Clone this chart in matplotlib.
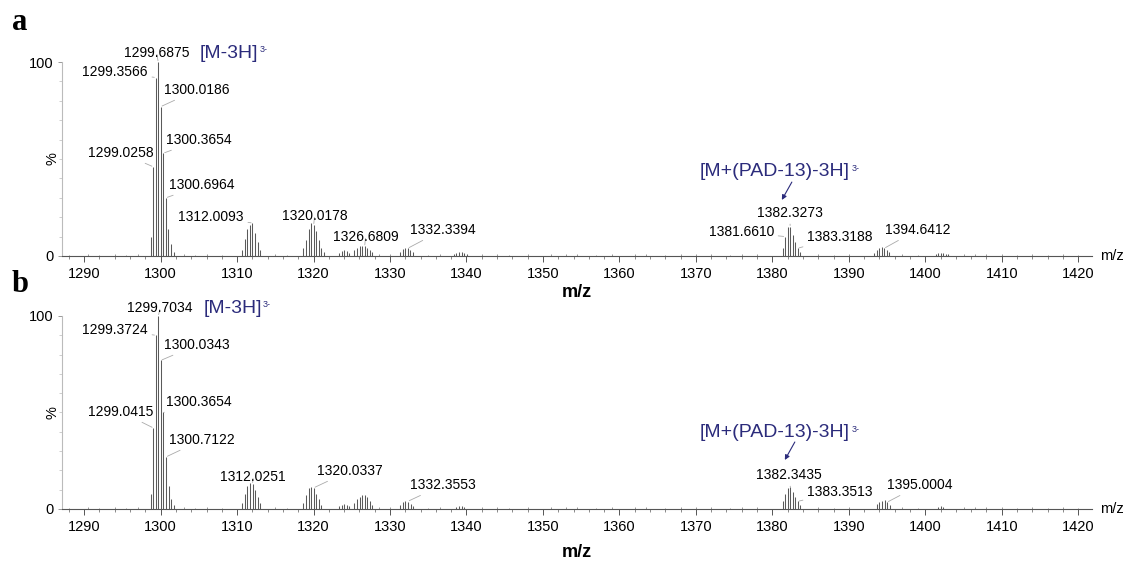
import matplotlib
matplotlib.use("Agg")
import matplotlib.pyplot as plt
from matplotlib.ticker import MultipleLocator, FixedLocator
from matplotlib.transforms import blended_transform_factory

plt.rcParams['font.family'] = ['Liberation Sans', 'DejaVu Sans']

# ---------------- data: panel a ----------------
a_mz = [1298.69, 1299.0258, 1299.3566, 1299.6875, 1300.0186, 1300.3654, 1300.6964, 1301.03, 1301.36, 1301.70,
        1310.67, 1311.01, 1311.34, 1311.68, 1312.0093, 1312.34, 1312.68, 1313.01,
        1318.68, 1319.01, 1319.35, 1319.68, 1320.0178, 1320.35, 1320.68, 1321.02, 1321.35,
        1323.35, 1323.68, 1324.02, 1324.35, 1324.68,
        1325.35, 1325.68, 1326.01, 1326.35, 1326.6809, 1327.01, 1327.35, 1327.68,
        1331.34, 1331.67, 1332.00, 1332.3394, 1332.67, 1333.00,
        1338.35, 1338.68, 1339.02, 1339.35, 1339.68, 1340.02,
        1381.33, 1381.6610, 1382.00, 1382.3273, 1382.66, 1382.99, 1383.3188, 1383.66,
        1393.30, 1393.64, 1393.97, 1394.31, 1394.6412, 1394.97, 1395.31,
        1401.35, 1401.68, 1402.02, 1402.35, 1402.68, 1403.02]
a_int = [10, 46, 92, 100, 77, 53, 30, 14, 6, 2,
         3, 9, 14, 16, 17, 12, 7, 3,
         4, 8, 14, 17, 16, 13, 8, 4, 2,
         1.5, 2.5, 3, 2.5, 1.5,
         3, 4, 5, 5, 5, 4, 3, 2,
         2, 3.5, 4, 4, 3, 2,
         1, 1.5, 2, 2, 1.5, 1,
         4, 10, 15, 15, 11, 7, 4, 2,
         1.5, 3, 4, 4.5, 4, 3, 2,
         1, 1.5, 1.5, 1.5, 1, 1]

# ---------------- data: panel b ----------------
b_mz = [1298.71, 1299.0415, 1299.3724, 1299.7034, 1300.0343, 1300.3654, 1300.7122, 1301.04, 1301.37, 1301.70,
        1310.68, 1311.02, 1311.35, 1311.69, 1312.0251, 1312.36, 1312.69, 1313.02,
        1318.68, 1319.02, 1319.36, 1319.69, 1320.0337, 1320.37, 1320.70, 1321.03,
        1323.35, 1323.68, 1324.02, 1324.35, 1324.68,
        1325.35, 1325.68, 1326.02, 1326.35, 1326.69, 1327.02, 1327.36, 1327.69,
        1331.36, 1331.69, 1332.02, 1332.3553, 1332.69, 1333.02,
        1338.68, 1339.02, 1339.35, 1339.68,
        1381.34, 1381.68, 1382.01, 1382.3435, 1382.68, 1383.01, 1383.3513, 1383.68,
        1393.66, 1394.00, 1394.33, 1394.67, 1395.0004, 1395.33,
        1401.68, 1402.02, 1402.35]
b_int = [8, 42, 90, 100, 77, 50, 27, 12, 5, 2,
         3, 8, 12, 13.5, 13, 10, 6, 3,
         3, 7, 11, 11.5, 11, 8, 5, 2,
         1.5, 2, 2.5, 2, 1.5,
         3, 5, 6, 7, 7.5, 6, 4, 2,
         2, 3.5, 4, 3.5, 2.5, 1.5,
         1, 1.5, 1.5, 1,
         4, 8, 11, 11.5, 9, 6, 4, 2,
         2.5, 3.5, 4, 4.5, 3.5, 2,
         1, 1.5, 1]

# low-level baseline signal (read approximately)
base_mz = [1288, 1290.5, 1292, 1294, 1295.5, 1297, 1303, 1304.5, 1306, 1308, 1315, 1316.5, 1328.5, 1330,
           1335, 1336.5, 1342, 1344, 1345.5, 1348, 1351, 1353, 1354.5, 1357, 1359, 1362, 1363.5, 1366,
           1368, 1370, 1372, 1374.5, 1376, 1378, 1386, 1388, 1390, 1397, 1399, 1405, 1406.5, 1408,
           1410, 1412, 1414, 1416, 1418, 1420]
base_int = [0.6, 0.8, 0.5, 0.9, 0.6, 0.8, 1.0, 0.7, 0.9, 0.6, 0.8, 0.7, 0.9, 0.8,
            0.7, 0.9, 0.8, 1.0, 0.7, 0.8, 0.9, 1.1, 0.8, 0.7, 0.9, 0.8, 1.0, 0.7,
            1.0, 0.8, 0.9, 0.7, 0.8, 0.9, 0.8, 0.7, 0.9, 0.8, 0.7, 1.0, 0.8, 0.9,
            0.8, 0.7, 0.9, 0.6, 0.8, 0.7]

# labels: (text, peak m/z, peak intensity, text x, text y)
a_labels = [("1299.6875", 1299.6875, 100, 1299.48, 104.6),
            ("1299.3566", 1299.3566, 92, 1294.05, 94.8),
            ("1300.0186", 1300.0186, 77, 1304.77, 85.6),
            ("1300.3654", 1300.3654, 53, 1305.03, 59.8),
            ("1299.0258", 1299.0258, 46, 1294.84, 53.1),
            ("1300.6964", 1300.6964, 30, 1305.42, 36.6),
            ("1312.0093", 1312.0093, 17, 1306.60, 20.1),
            ("1320.0178", 1320.0178, 16, 1320.13, 20.6),
            ("1326.6809", 1326.6809, 5, 1326.80, 9.8),
            ("1332.3394", 1332.3394, 4, 1336.86, 13.4),
            ("1382.3273", 1382.3273, 15, 1382.29, 22.2),
            ("1381.6610", 1381.6610, 10, 1375.95, 12.4),
            ("1383.3188", 1383.3188, 4, 1388.82, 9.8),
            ("1394.6412", 1394.6412, 4, 1398.95, 13.4)]
b_labels = [("1299.7034", 1299.7034, 100, 1299.93, 104.1),
            ("1299.3724", 1299.3724, 90, 1294.05, 92.7),
            ("1300.0343", 1300.0343, 77, 1304.77, 85.0),
            ("1300.3654", 1300.3654, 50, 1305.03, 55.4),
            ("1299.0415", 1299.0415, 42, 1294.84, 50.3),
            ("1300.7122", 1300.7122, 27, 1305.42, 35.8),
            ("1312.0251", 1312.0251, 13, 1312.09, 16.6),
            ("1320.0337", 1320.0337, 11, 1324.71, 19.7),
            ("1332.3553", 1332.3553, 4, 1336.86, 12.4),
            ("1382.3435", 1382.3435, 11.5, 1382.22, 17.6),
            ("1383.3513", 1383.3513, 4, 1388.82, 8.8),
            ("1395.0004", 1395.0004, 3.5, 1399.28, 12.4)]

ion_label = "[M-3H]"
pad_label = "[M+(PAD-13)-3H]"
charge_label = "3-"
NAVY = '#2b2b7b'

fig = plt.figure(figsize=(11.31, 5.61), dpi=100)
ax_a = fig.add_axes([0.0548, 0.5437, 0.9107, 0.4011])
ax_b = fig.add_axes([0.0548, 0.0927, 0.9107, 0.3785])


def navy_label(ax, x, y, text):
    t = ax.text(x, y, text, color=NAVY, fontsize=14, ha='left', va='center')
    ax.annotate(charge_label, xy=(1, 1), xycoords=t, xytext=(1.0, -0.5),
                textcoords='offset points', ha='left', va='top',
                color=NAVY, fontsize=6.5)


def draw(ax, mz, inten, labels, ylim, ion_pos, pad_pos, pad_arrow, xlabelpad):
    ax.vlines(base_mz, 0, base_int, color='#888888', lw=0.6)
    ax.vlines(mz, 0, inten, color='#5a5a5a', lw=0.75)
    ax.set_xlim(1287.1, 1421.8)
    ax.set_ylim(*ylim)
    for s in ['top', 'right']:
        ax.spines[s].set_visible(False)
    ax.spines['left'].set_bounds(0, 100)
    ax.spines['left'].set_color('#bbbbbb')
    ax.spines['bottom'].set_color('#555555')
    ax.spines['bottom'].set_linewidth(0.8)
    ax.yaxis.set_major_locator(FixedLocator([0, 100]))
    ax.yaxis.set_minor_locator(FixedLocator([10, 20, 30, 40, 50, 60, 70, 80, 90]))
    ax.xaxis.set_major_locator(MultipleLocator(10))
    ax.xaxis.set_minor_locator(MultipleLocator(2))
    ax.tick_params(axis='x', which='major', length=4, width=0.7, color='#555555', pad=4, labelsize=10.5)
    ax.tick_params(axis='x', which='minor', length=2.5, width=0.6, color='#777777')
    ax.tick_params(axis='y', which='major', length=3, width=0.7, color='#999999', pad=3, labelsize=10.5)
    ax.tick_params(axis='y', which='minor', length=2, width=0.5, color='#bbbbbb')
    tr = blended_transform_factory(ax.transAxes, ax.transData)
    ax.text(-0.0095, 50, '%', transform=tr, rotation=90, ha='center', va='center',
            fontsize=10.5)
    ax.set_xlabel('m/z', fontsize=13, fontweight='bold', labelpad=xlabelpad)
    ax.annotate('m/z', xy=(1, 0), xycoords='axes fraction', xytext=(6, 0),
                textcoords='offset points', ha='left', va='center', fontsize=10.5)
    for text, px, py, tx, ty in labels:
        ax.annotate(text, xy=(px, py), xytext=(tx, ty), ha='center', va='center',
                    fontsize=10, annotation_clip=False,
                    arrowprops=dict(arrowstyle='-', color='#aaaaaa', lw=0.6,
                                    shrinkA=1, shrinkB=1))
    navy_label(ax, ion_pos[0], ion_pos[1], ion_label)
    navy_label(ax, pad_pos[0], pad_pos[1], pad_label)
    ax.annotate('', xy=pad_arrow[1], xytext=pad_arrow[0],
                arrowprops=dict(arrowstyle='-|>', color=NAVY, lw=0.8,
                                mutation_scale=7, shrinkA=0, shrinkB=0))


draw(ax_a, a_mz, a_int, a_labels, (0, 116), (1305.16, 104.6), (1370.52, 43.3),
     ((1382.55, 38.1), (1381.24, 28.9)), 2)
draw(ax_b, b_mz, b_int, b_labels, (0, 110), (1305.56, 104.1), (1370.52, 39.4),
     ((1382.94, 34.7), (1381.63, 25.4)), 7)

fig.text(12 / 1131, 1 - 22 / 561, 'a', fontsize=22, fontweight='bold',
         family='Liberation Serif', ha='left', va='center')
fig.text(12 / 1131, 1 - 284 / 561, 'b', fontsize=22, fontweight='bold',
         family='Liberation Serif', ha='left', va='center')

fig.savefig('out.png', dpi=100)
